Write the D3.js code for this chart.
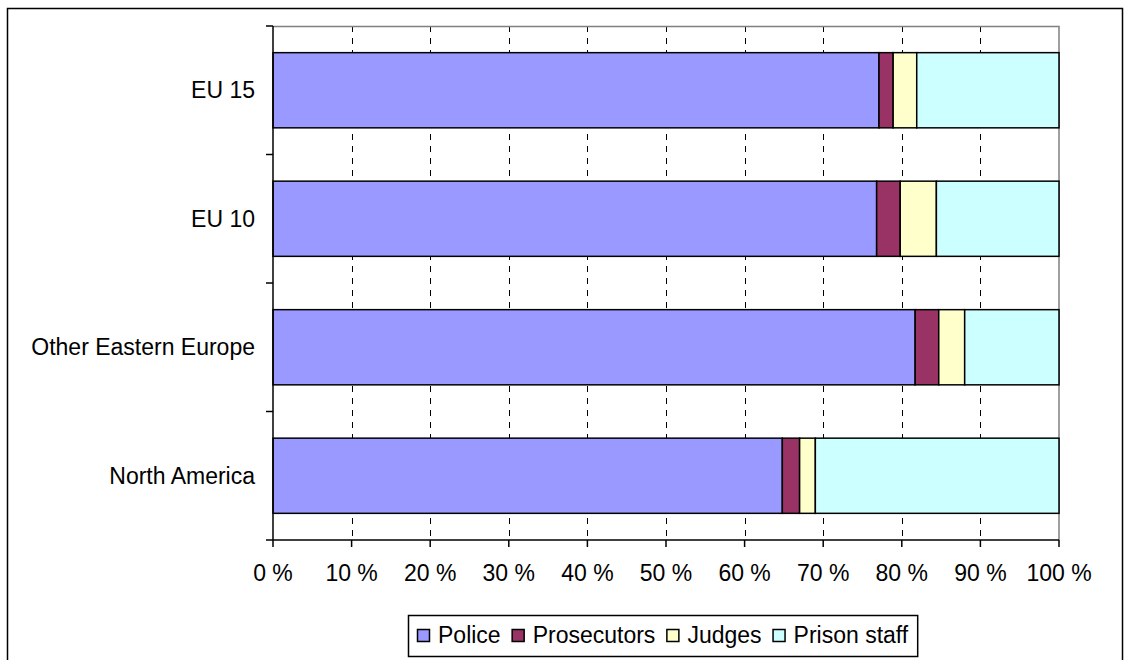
<!DOCTYPE html>
<html>
<head>
<meta charset="utf-8">
<script src="https://cdn.jsdelivr.net/npm/d3@7"></script>
<style>
  body { margin: 0; background: #fff; }
  text { font-family: "Liberation Sans", Arial, sans-serif; font-size: 23px; fill: #000; }
</style>
</head>
<body>
<svg id="chart" width="1125" height="660"></svg>
<script>
// data (share of staff, %)
const regions = ["EU 15", "EU 10", "Other Eastern Europe", "North America"];
const groups = ["Police", "Prosecutors", "Judges", "Prison staff"];
const police = [77.1, 76.8, 81.7, 64.8];
const prosecutors = [1.8, 3.0, 3.0, 2.2];
const judges = [3.0, 4.6, 3.3, 2.0];
const prisonStaff = [18.1, 15.6, 12.0, 31.0];
const xTicks = [0, 10, 20, 30, 40, 50, 60, 70, 80, 90, 100];
const colors = ["#9999FF", "#993366", "#FFFFCC", "#CCFFFF"];

const svg = d3.select("#chart"),
    margin = { top: 26, right: 66, bottom: 120, left: 273 },
    width = +svg.attr("width") - margin.left - margin.right,
    height = +svg.attr("height") - margin.top - margin.bottom;

// outer chart border
svg.append("rect")
    .attr("x", 7.5).attr("y", 8.5)
    .attr("width", 1115).attr("height", 700)
    .attr("fill", "none")
    .attr("stroke", "#000")
    .attr("stroke-width", 1.5);

const g = svg.append("g").attr("transform", "translate(" + margin.left + "," + margin.top + ")");

const x = d3.scaleLinear().domain([0, 100]).range([0, width]);
const y = d3.scaleBand().domain(regions).range([0, height]).paddingInner(0.415).paddingOuter(0.2075);
const yTicks = d3.scaleBand().domain(regions).range([0, height]);

const table = regions.map((r, i) => ({
    region: r,
    Police: police[i],
    Prosecutors: prosecutors[i],
    Judges: judges[i],
    "Prison staff": prisonStaff[i]
}));
const stack = d3.stack().keys(groups)(table);

// dashed gridlines
g.selectAll(".grid")
    .data(xTicks.filter(d => d > 0 && d < 100))
    .enter().append("line")
    .attr("x1", d => Math.round(x(d)) + 0.5)
    .attr("x2", d => Math.round(x(d)) + 0.5)
    .attr("y1", 0)
    .attr("y2", height)
    .attr("stroke", "#000")
    .attr("stroke-dasharray", "6,6");

// plot area border (top and right, grey)
g.append("path")
    .attr("d", "M0,0.5H" + width + "V" + height)
    .attr("fill", "none")
    .attr("stroke", "#808080")
    .attr("stroke-width", 1.5);

// bars
g.selectAll(".series")
    .data(stack)
    .enter().append("g")
    .attr("fill", (d, i) => colors[i])
    .selectAll("rect")
    .data(d => d)
    .enter().append("rect")
    .attr("x", d => x(d[0]))
    .attr("y", d => y(d.data.region))
    .attr("width", d => x(d[1]) - x(d[0]))
    .attr("height", y.bandwidth())
    .attr("stroke", "#000")
    .attr("stroke-width", 1.5);

// x axis
const xAxis = g.append("g").attr("transform", "translate(0," + height + ")");
xAxis.append("line").attr("x1", -7).attr("x2", width).attr("stroke", "#000").attr("stroke-width", 1.5);
xAxis.selectAll(".tick")
    .data(xTicks)
    .enter().append("line")
    .attr("x1", d => x(d)).attr("x2", d => x(d))
    .attr("y1", 0).attr("y2", 7)
    .attr("stroke", "#000").attr("stroke-width", 1.5);
xAxis.selectAll(".lab")
    .data(xTicks)
    .enter().append("text")
    .attr("x", d => x(d))
    .attr("y", 41)
    .attr("text-anchor", "middle")
    .text(d => d + " %");

// y axis
const yAxis = g.append("g");
yAxis.append("line").attr("y1", 0).attr("y2", height).attr("stroke", "#000").attr("stroke-width", 1.5);
yAxis.selectAll(".tick")
    .data(regions)
    .enter().append("line")
    .attr("x1", -7).attr("x2", 0)
    .attr("y1", d => yTicks(d)).attr("y2", d => yTicks(d))
    .attr("stroke", "#000").attr("stroke-width", 1.5);
yAxis.selectAll(".lab")
    .data(regions)
    .enter().append("text")
    .attr("x", -18)
    .attr("y", d => yTicks(d) + yTicks.bandwidth() / 2)
    .attr("dy", "0.35em")
    .attr("text-anchor", "end")
    .text(d => d);

// legend
const legend = svg.append("g");
const legendBox = legend.append("rect")
    .attr("x", 408.5).attr("y", 615.5)
    .attr("height", 41)
    .attr("fill", "#fff")
    .attr("stroke", "#000")
    .attr("stroke-width", 1.5);
let lx = 417;
groups.forEach((k, i) => {
    legend.append("rect")
        .attr("x", lx + 0.5).attr("y", 629.5)
        .attr("width", 12).attr("height", 12)
        .attr("fill", colors[i])
        .attr("stroke", "#000")
        .attr("stroke-width", 1.5);
    const t = legend.append("text")
        .attr("x", lx + 21)
        .attr("y", 643)
        .text(k);
    lx += 21 + t.node().getComputedTextLength() + 11;
});
legendBox.attr("width", lx - 408 - 2);
</script>
</body>
</html>
